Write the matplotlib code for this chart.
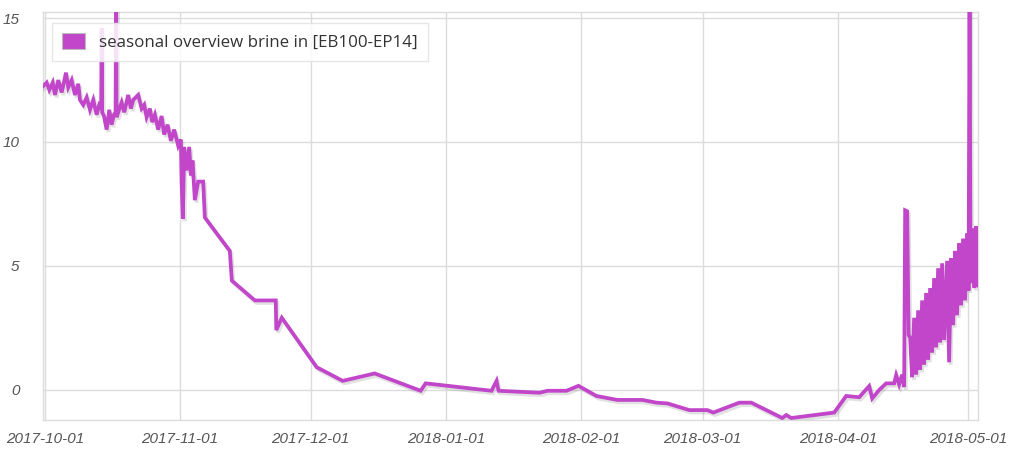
import matplotlib
matplotlib.use("Agg")
import matplotlib.pyplot as plt
import matplotlib.dates as mdates
import matplotlib.patheffects as pe
from matplotlib.patches import Patch
from datetime import datetime, timedelta

# ---- data (days since 2017-10-01, temperature) ----
start_date = datetime(2017, 10, 1)

days = [
    -0.76, 0.39, 0.99, 1.77, 2.29, 3.05, 3.83, 4.82, 5.34, 6.12, 6.88, 7.64,
    8.03, 8.78, 9.56, 10.32, 11.08, 11.86, 12.45, 12.89, 13.0, 13.12, 13.53,
    14.15, 14.75, 15.3, 15.83, 16.2, 16.33, 16.44, 16.81, 17.59, 18.19, 19.1,
    19.72, 20.25, 21.4, 22.18, 22.78, 23.33, 24.08, 24.61, 25.23, 25.99, 26.77,
    27.36, 28.14, 28.9, 29.66, 30.57, 31.19, 31.35, 31.65, 31.95, 32.5, 33.1,
    33.49, 33.88, 34.4, 35.16, 36.31, 36.7, 42.43, 42.89, 48.17, 52.98, 53.1,
    54.36, 62.39, 68.35, 75.69, 86.24, 87.39, 102.52, 103.67, 104.13, 113.53,
    115.37, 119.72, 122.48, 126.6, 131.42, 137.16, 140.37, 142.89, 147.94,
    152.06, 153.44, 159.4, 162.16, 169.27, 170.18, 171.33, 181.19, 183.94,
    186.93, 189.22, 189.91, 191.51, 193.12, 194.95, 195.41, 196.1, 196.79,
    197.25, 197.48, 197.94, 198.28, 198.62, 199.08, 199.54, 200.0, 200.46,
    200.92, 201.38, 201.83, 202.29, 202.75, 203.21, 203.67, 204.13, 204.59,
    205.05, 205.5, 205.96, 206.42, 207.11, 207.57, 208.03, 208.49, 208.94,
    209.4, 209.86, 210.32, 210.78, 211.24, 211.7, 212.04, 212.27, 212.5,
    212.84, 213.3, 213.76, 214.11,
]

values = [
    12.2, 12.4, 12.1, 12.4, 11.9, 12.5, 12.0, 12.8, 12.2, 12.5, 11.9, 12.35,
    11.7, 11.5, 11.8, 11.3, 11.7, 11.1, 11.5, 11.4, 14.6, 11.2, 11.05,
    10.5, 11.3, 10.7, 11.1, 11.2, 16.0, 11.0, 11.2, 11.6, 11.2, 11.9,
    11.35, 11.7, 11.9, 11.35, 11.5, 11.0, 11.35, 10.8, 11.1, 10.5, 11.05,
    10.3, 10.7, 10.05, 10.5, 9.85, 10.1, 8.45, 6.9, 9.8, 8.85, 9.8,
    8.65, 9.25, 7.65, 8.4, 8.4, 6.95, 5.6, 4.4, 3.6, 3.6, 2.4,
    2.9, 0.9, 0.35, 0.65, -0.05, 0.25, -0.05, 0.35, -0.05, -0.13,
    -0.05, -0.05, 0.15, -0.26, -0.42, -0.42, -0.53, -0.56, -0.83,
    -0.83, -0.93, -0.53, -0.53, -1.15, -1.03, -1.15, -0.93, -0.26,
    -0.31, 0.14, -0.36, -0.02, 0.25, 0.25, 0.58, 0.2, 0.6,
    0.1, 7.24, 7.2, 2.2, 2.1, 0.5, 2.9, 0.6, 3.2,
    0.8, 3.6, 1.0, 3.9, 1.2, 4.1, 1.5, 4.5, 1.7,
    4.9, 1.9, 5.1, 2.0, 5.2, 1.1, 5.3, 2.6, 5.6,
    3.0, 5.9, 3.4, 6.1, 3.6, 6.3, 4.0, 16.0, 4.3,
    6.5, 4.1, 6.6, 4.2,
]

series_label = "seasonal overview brine in [EB100-EP14]"
y_ticks = [0, 5, 10, 15]
x_tick_labels = ["2017-10-01", "2017-11-01", "2017-12-01", "2018-01-01",
                 "2018-02-01", "2018-03-01", "2018-04-01", "2018-05-01"]

line_color = "#c146c9"
grid_color = "#dcdcdc"
text_color = "#555555"

dates = [start_date + timedelta(days=d) for d in days]
tick_dates = [datetime.strptime(s, "%Y-%m-%d") for s in x_tick_labels]

fig = plt.figure(figsize=(10.2, 4.5), dpi=100)
ax = fig.add_axes([0.0422, 0.0667, 0.9166, 0.9066])

ax.plot(dates, values, color=line_color, lw=2.7, solid_joinstyle="miter",
        path_effects=[pe.SimpleLineShadow(offset=(1.2, -1.8), shadow_color="#888888", alpha=0.25),
                      pe.Normal()], zorder=3)

ax.set_xlim(start_date + timedelta(days=-0.45), start_date + timedelta(days=214.2))
ax.set_ylim(-1.23, 15.25)

ax.set_xticks(tick_dates)
ax.set_xticklabels(x_tick_labels)
ax.set_yticks(y_ticks)
ax.set_yticklabels([str(v) for v in y_ticks])

for lab in ax.get_xticklabels() + ax.get_yticklabels():
    lab.set_fontfamily("Liberation Sans")
    lab.set_fontstyle("italic")
    lab.set_fontsize(11)
    lab.set_color(text_color)

ax.tick_params(axis="both", length=0)
ax.tick_params(axis="x", pad=9)
ax.tick_params(axis="y", pad=17)

ax.grid(True, color=grid_color, lw=1)
ax.set_axisbelow(True)
for sp in ax.spines.values():
    sp.set_color(grid_color)
    sp.set_linewidth(1)

handle = Patch(facecolor=line_color, edgecolor="#bbbbbb", linewidth=0.8)
leg = ax.legend([handle], [series_label], loc="upper left",
                bbox_to_anchor=(0.0, 0.995), frameon=True, fancybox=False,
                edgecolor="#e2e2e2", framealpha=0.85, handlelength=1.4,
                handleheight=1.1, handletextpad=0.8, borderpad=0.6,
                prop={"family": "Open Sans", "size": 12.2})
for t in leg.get_texts():
    t.set_color("#333333")

fig.savefig("out.png", dpi=100)
